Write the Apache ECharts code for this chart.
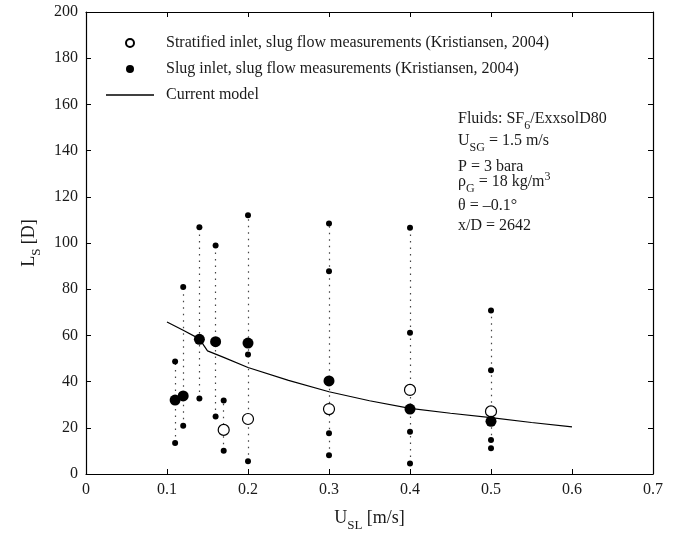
<!DOCTYPE html>
<html>
<head>
<meta charset="utf-8">
<script src="https://cdn.jsdelivr.net/npm/echarts@6/dist/echarts.min.js"></script>
<style>
  html, body { margin: 0; padding: 0; background: #fff; }
  #chart { width: 676px; height: 537px; }
</style>
</head>
<body>
<div id="chart"></div>
<script>
// stratified inlet, slug flow measurements (open circles)
var stratX = [0.17, 0.2, 0.3, 0.4, 0.5];
var stratY = [19.1, 23.8, 28.1, 36.4, 27.1];

// slug inlet, slug flow measurements (big filled circles)
var slugX = [0.11, 0.12, 0.14, 0.16, 0.2, 0.3, 0.4, 0.5];
var slugY = [32.0, 33.8, 58.3, 57.3, 56.7, 40.3, 28.1, 22.8];

// small dots along the dotted ranges
var dotX = [0.11, 0.11, 0.12, 0.12, 0.14, 0.14, 0.16, 0.16, 0.17, 0.17,
            0.2, 0.2, 0.2, 0.3, 0.3, 0.3, 0.3, 0.4, 0.4, 0.4, 0.4,
            0.5, 0.5, 0.5, 0.5];
var dotY = [48.7, 13.4, 81.0, 20.9, 106.8, 32.7, 98.9, 24.9, 31.8, 10.1,
            112.0, 51.7, 5.5, 108.4, 87.8, 17.6, 8.1, 106.6, 61.2, 18.3, 4.5,
            70.8, 44.9, 14.7, 11.2];

// current model curve
var modelX = [0.10, 0.12, 0.14, 0.15, 0.17, 0.20, 0.25, 0.30, 0.35, 0.40, 0.45, 0.50, 0.55, 0.60];
var modelY = [65.8, 62.2, 58.5, 53.3, 50.5, 46.1, 40.5, 35.6, 31.7, 28.4, 26.3, 24.4, 22.3, 20.4];

var xTicks = ['0', '0.1', '0.2', '0.3', '0.4', '0.5', '0.6', '0.7'];

var legendNames = [
  'Stratified inlet, slug flow measurements (Kristiansen, 2004)',
  'Slug inlet, slug flow measurements (Kristiansen, 2004)',
  'Current model'
];

function pairs(xs, ys) {
  var out = [];
  for (var i = 0; i < xs.length; i++) out.push([xs[i], ys[i]]);
  return out;
}

// dotted vertical range at each x: from lowest to highest measured value
var ranges = {};
[[dotX, dotY], [slugX, slugY], [stratX, stratY]].forEach(function (s) {
  for (var i = 0; i < s[0].length; i++) {
    var k = s[0][i];
    if (!ranges[k]) ranges[k] = [s[1][i], s[1][i]];
    ranges[k][0] = Math.min(ranges[k][0], s[1][i]);
    ranges[k][1] = Math.max(ranges[k][1], s[1][i]);
  }
});
var rangeLines = [];
Object.keys(ranges).forEach(function (k) {
  var x = parseFloat(k);
  rangeLines.push([{ coord: [x, ranges[k][0]] }, { coord: [x, ranges[k][1]] }]);
});

var font = 'Liberation Serif';
var txt = '#1a1a1a';

var chart = echarts.init(document.getElementById('chart'));

var sub = { fontFamily: font, fontSize: 12, lineHeight: 12, padding: [9, 0, 0, 0], verticalAlign: 'top', color: txt };
var sup = { fontFamily: font, fontSize: 12, lineHeight: 12, padding: [-3, 0, 0, 0], verticalAlign: 'top', color: txt };
var main = { fontFamily: font, fontSize: 16, lineHeight: 16, verticalAlign: 'top', color: txt };

function note(top, text) {
  return {
    type: 'text', left: 458, top: top, z: 10,
    style: { text: text, rich: { a: main, s: sub, p: sup }, fill: txt }
  };
}

var axisCommon = {
  type: 'value',
  splitLine: { show: false },
  axisLine: { onZero: false, lineStyle: { color: '#000', width: 1.2 } },
  axisTick: { inside: true, length: 5, lineStyle: { color: '#000' } }
};

var nameRich = {
  a: { fontFamily: font, fontSize: 18, lineHeight: 18, verticalAlign: 'top', color: txt },
  s: { fontFamily: font, fontSize: 13, lineHeight: 13, padding: [10, 0, 0, 0], verticalAlign: 'top', color: txt }
};

var option = {
  animation: false,
  backgroundColor: '#fff',
  grid: { left: 86, right: 23, top: 12, bottom: 62 },
  legend: {
    data: [
      { name: legendNames[0] },
      { name: legendNames[1] },
      { name: legendNames[2], icon: 'path://M0,0L48,0L48,1.3L0,1.3Z' }
    ],
    orient: 'vertical',
    left: 101,
    top: 30,
    itemWidth: 48,
    itemHeight: 8,
    itemGap: 10,
    selectedMode: false,
    textStyle: { fontFamily: font, fontSize: 16, lineHeight: 16, color: txt, padding: [0, 0, 0, 7] }
  },
  xAxis: [
    Object.assign({}, axisCommon, {
      min: 0, max: 0.7, interval: 0.1,
      name: '{a|U}{s|SL}{a| [m/s]}',
      nameLocation: 'middle',
      nameGap: 35,
      nameTextStyle: { rich: nameRich },
      axisLabel: {
        fontFamily: font, fontSize: 16, color: txt, margin: 8,
        formatter: function (v) { return xTicks[Math.round(v * 10)]; }
      }
    }),
    Object.assign({}, axisCommon, {
      position: 'top', min: 0, max: 0.7, interval: 0.1,
      axisLabel: { show: false }
    })
  ],
  yAxis: [
    Object.assign({}, axisCommon, {
      min: 0, max: 200, interval: 20,
      name: '{a|L}{s|S}{a| [D]}',
      nameLocation: 'middle',
      nameRotate: 90,
      nameGap: 47,
      nameTextStyle: { rich: nameRich },
      axisLabel: { fontFamily: font, fontSize: 16, color: txt, margin: 8 }
    }),
    Object.assign({}, axisCommon, {
      position: 'right', min: 0, max: 200, interval: 20,
      axisLabel: { show: false }
    })
  ],
  series: [
    {
      name: 'dots',
      type: 'scatter',
      data: pairs(dotX, dotY),
      symbol: 'circle',
      symbolSize: 6,
      itemStyle: { color: '#000', opacity: 1 },
      z: 4,
      markLine: {
        silent: true,
        symbol: 'none',
        label: { show: false },
        lineStyle: { color: '#444', width: 1.2, type: [1.5, 5] },
        data: rangeLines,
        z: 1
      }
    },
    {
      name: legendNames[2],
      type: 'line',
      data: pairs(modelX, modelY),
      symbol: 'none',
      showSymbol: false,
      lineStyle: { color: '#000', width: 1.2 },
      itemStyle: { color: '#000' },
      z: 3
    },
    {
      name: legendNames[0],
      type: 'scatter',
      data: pairs(stratX, stratY),
      symbol: 'circle',
      symbolSize: 11,
      itemStyle: { color: '#fff', borderColor: '#000', borderWidth: 1.2, opacity: 1 },
      z: 5
    },
    {
      name: legendNames[1],
      type: 'scatter',
      data: pairs(slugX, slugY),
      symbol: 'circle',
      symbolSize: 11,
      itemStyle: { color: '#000', opacity: 1 },
      z: 5
    }
  ],
  graphic: [
    note(111, '{a|Fluids: SF}{s|6}{a|/ExxsolD80}'),
    note(133, '{a|U}{s|SG}{a| = 1.5 m/s}'),
    note(159, '{a|P = 3 bara}'),
    note(171, '{a|\u03c1}{s|G}{a| = 18 kg/m}{p|3}'),
    note(198, '{a|\u03b8 = \u20130.1\u00b0}'),
    note(218, '{a|x/D = 2642}')
  ]
};

chart.setOption(option);
</script>
</body>
</html>
